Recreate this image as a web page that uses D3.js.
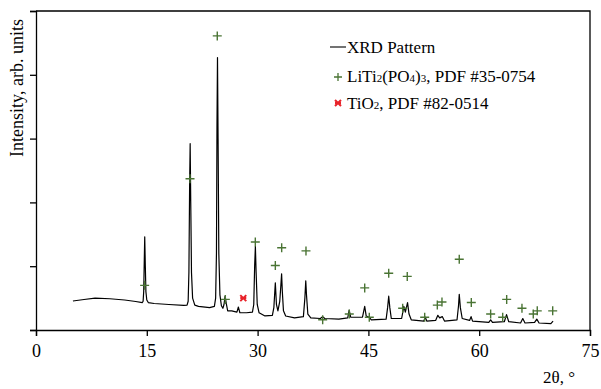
<!DOCTYPE html>
<html>
<head>
<meta charset="utf-8">
<script src="https://cdn.jsdelivr.net/npm/d3@7"></script>
<style>
  body { margin: 0; background: #fff; }
  svg { display: block; }
</style>
</head>
<body>
<svg id="chart" width="601" height="389" font-family="'Liberation Serif', 'Times New Roman', serif"></svg>
<script>
// XRD trace: [2theta, intensity]
var xrdPattern = [
  [5.0, 0.455], [6.5, 0.478], [8.0, 0.50], [10, 0.49], [12, 0.47], [13.5, 0.447], [14.4, 0.43],
  [14.5, 0.45], [14.58, 0.6], [14.66, 1.1], [14.72, 1.46], [14.8, 1.0], [14.88, 0.6], [15.0, 0.47], [15.2, 0.43],
  [16, 0.415], [18, 0.40], [20, 0.385], [20.45, 0.39],
  [20.6, 0.45], [20.7, 0.9], [20.8, 2.3], [20.87, 2.92], [20.95, 2.0], [21.05, 0.9], [21.2, 0.5], [21.5, 0.39],
  [22, 0.37], [23.5, 0.35], [24.15, 0.37],
  [24.32, 0.5], [24.43, 1.2], [24.5, 3.2], [24.57, 4.27], [24.65, 3.0], [24.75, 1.2], [24.9, 0.55], [25.1, 0.38],
  [25.3, 0.34], [25.45, 0.4], [25.6, 0.53], [25.75, 0.42], [25.95, 0.3],
  [26.5, 0.30], [27.2, 0.28], [27.4, 0.36], [27.6, 0.27], [28.5, 0.27],
  [29.3, 0.28], [29.48, 0.4], [29.6, 1.0], [29.7, 1.31], [29.8, 0.9], [29.95, 0.4], [30.2, 0.27],
  [31, 0.22], [32.0, 0.23], [32.2, 0.35], [32.4, 0.74], [32.55, 0.4], [32.75, 0.3],
  [33.0, 0.45], [33.15, 0.7], [33.25, 0.88], [33.35, 0.6], [33.5, 0.3], [33.8, 0.22],
  [35, 0.19], [36.2, 0.21], [36.4, 0.5], [36.52, 0.77], [36.62, 0.55], [36.8, 0.25], [37.2, 0.19],
  [38.5, 0.18], [38.8, 0.21], [39.1, 0.18], [41, 0.17],
  [42.2, 0.19], [42.4, 0.31], [42.6, 0.2],
  [44.2, 0.2], [44.5, 0.37], [44.7, 0.22], [45.1, 0.2], [45.4, 0.16],
  [47.4, 0.17], [47.6, 0.35], [47.75, 0.53], [47.9, 0.35], [48.1, 0.18],
  [49.5, 0.18], [49.8, 0.37], [50.0, 0.28], [50.3, 0.43], [50.5, 0.25], [50.8, 0.16],
  [52.5, 0.14], [52.7, 0.2], [52.9, 0.14],
  [54.1, 0.15], [54.4, 0.23], [54.65, 0.19], [55.0, 0.21], [55.3, 0.14],
  [57.0, 0.16], [57.2, 0.38], [57.3, 0.56], [57.45, 0.35], [57.7, 0.18],
  [58.7, 0.15], [58.9, 0.21], [59.1, 0.14],
  [61.3, 0.12], [61.55, 0.16], [61.8, 0.12],
  [63.4, 0.13], [63.7, 0.24], [64.0, 0.13],
  [65.6, 0.11], [65.9, 0.18], [66.2, 0.11],
  [67.5, 0.12], [67.8, 0.17], [68.1, 0.11],
  [69.7, 0.10], [70.0, 0.14]
];

// LiTi2(PO4)3 reference markers
var ltpPeaks = [
  [14.71, 0.70], [20.85, 2.37], [24.54, 4.61], [25.63, 0.48], [29.69, 1.38], [32.40, 1.01],
  [33.26, 1.29], [36.55, 1.24], [38.81, 0.16], [42.41, 0.25], [44.50, 0.66], [45.12, 0.20],
  [47.75, 0.89], [49.64, 0.34], [50.26, 0.84], [52.62, 0.20], [54.33, 0.39], [54.96, 0.44],
  [57.30, 1.11], [58.93, 0.43], [61.55, 0.25], [63.18, 0.20], [63.72, 0.48], [65.79, 0.34],
  [67.32, 0.25], [67.86, 0.30], [69.95, 0.30]
];

// TiO2 reference marker
var tioPeaks = [[28.06, 0.50]];

var xTicks = [0, 15, 30, 45, 60, 75];
var yTicks = [0, 1, 2, 3, 4, 5];

var serif = "'Liberation Serif', 'Times New Roman', serif";
var svg = d3.select('#chart');
var pLeft = 36, pRight = 590, pTop = 11, pBottom = 330;
var green = '#4a7434', red = '#e8232a';

var x = d3.scaleLinear().domain([0, 75]).range([pLeft, pRight]);
var y = d3.scaleLinear().domain([0, 5]).range([pBottom, pTop]);

// frame
svg.append('path')
    .attr('d', 'M' + pLeft + ',' + pTop + 'H' + pRight + 'V' + pBottom)
    .attr('fill', 'none')
    .attr('stroke', '#000')
    .attr('stroke-width', 1.3);

var xAxis = svg.append('g')
    .attr('transform', 'translate(0,' + pBottom + ')')
    .call(d3.axisBottom(x).tickValues(xTicks).tickSize(6).tickPadding(8));
xAxis.attr('font-family', serif).attr('font-size', 18);
xAxis.select('.domain').attr('stroke-width', 1.3);
xAxis.selectAll('line').attr('stroke-width', 1.3);
xAxis.selectAll('text').attr('fill', '#000').attr('font-family', serif);

var yAxis = svg.append('g')
    .attr('transform', 'translate(' + pLeft + ',0)')
    .call(d3.axisLeft(y).tickValues(yTicks).tickSize(6).tickFormat(''));
yAxis.select('.domain').attr('stroke-width', 1.3);
yAxis.selectAll('line').attr('stroke-width', 1.3);

svg.append('text')
    .attr('transform', 'translate(23,88)rotate(-90)')
    .attr('text-anchor', 'middle')
    .attr('font-size', 18)
    .text('Intensity, arb. units');

svg.append('text')
    .attr('x', 575)
    .attr('y', 383)
    .attr('text-anchor', 'end')
    .attr('font-size', 17)
    .text('2θ, °');

// pattern
var line = d3.line().x(d => x(d[0])).y(d => y(d[1]));
svg.append('path')
    .datum(xrdPattern)
    .attr('d', line)
    .attr('fill', 'none')
    .attr('stroke', '#000')
    .attr('stroke-width', 1.2)
    .attr('stroke-linejoin', 'round');

// markers
svg.append('g')
    .selectAll('path')
    .data(ltpPeaks)
    .enter().append('path')
    .attr('d', 'M-4.5,0H4.5M0,-4.5V4.5')
    .attr('transform', d => 'translate(' + x(d[0]) + ',' + y(d[1]) + ')')
    .attr('stroke', green)
    .attr('stroke-width', 1.4)
    .attr('fill', 'none');

svg.append('g')
    .selectAll('path')
    .data(tioPeaks)
    .enter().append('path')
    .attr('d', 'M-3,-3L3,3M3,-3L-3,3M-3,0H3')
    .attr('transform', d => 'translate(' + x(d[0]) + ',' + y(d[1]) + ')')
    .attr('stroke', red)
    .attr('stroke-width', 2)
    .attr('fill', 'none');

// legend
var legend = svg.append('g').attr('transform', 'translate(330,0)');
legend.append('line')
    .attr('x1', 0).attr('x2', 16).attr('y1', 47).attr('y2', 47)
    .attr('stroke', '#000').attr('stroke-width', 1.1);
legend.append('text')
    .attr('x', 17).attr('y', 53)
    .attr('font-size', 17)
    .text('XRD Pattern');

legend.append('path')
    .attr('d', 'M-4,0H4M0,-4V4')
    .attr('transform', 'translate(8,77)')
    .attr('stroke', green).attr('stroke-width', 1.3);
var t1 = legend.append('text')
    .attr('x', 17).attr('y', 82)
    .attr('font-size', 17);
t1.append('tspan').text('LiTi');
t1.append('tspan').attr('font-size', 11).text('2');
t1.append('tspan').text('(PO');
t1.append('tspan').attr('font-size', 11).text('4');
t1.append('tspan').text(')');
t1.append('tspan').attr('font-size', 11).text('3');
t1.append('tspan').text(', PDF #35-0754');

legend.append('path')
    .attr('d', 'M-3,-3L3,3M3,-3L-3,3M-3,0H3')
    .attr('transform', 'translate(8,103)')
    .attr('stroke', red).attr('stroke-width', 2);
var t2 = legend.append('text')
    .attr('x', 17).attr('y', 109)
    .attr('font-size', 17);
t2.append('tspan').text('TiO');
t2.append('tspan').attr('font-size', 11).text('2');
t2.append('tspan').text(', PDF #82-0514');
</script>
</body>
</html>
